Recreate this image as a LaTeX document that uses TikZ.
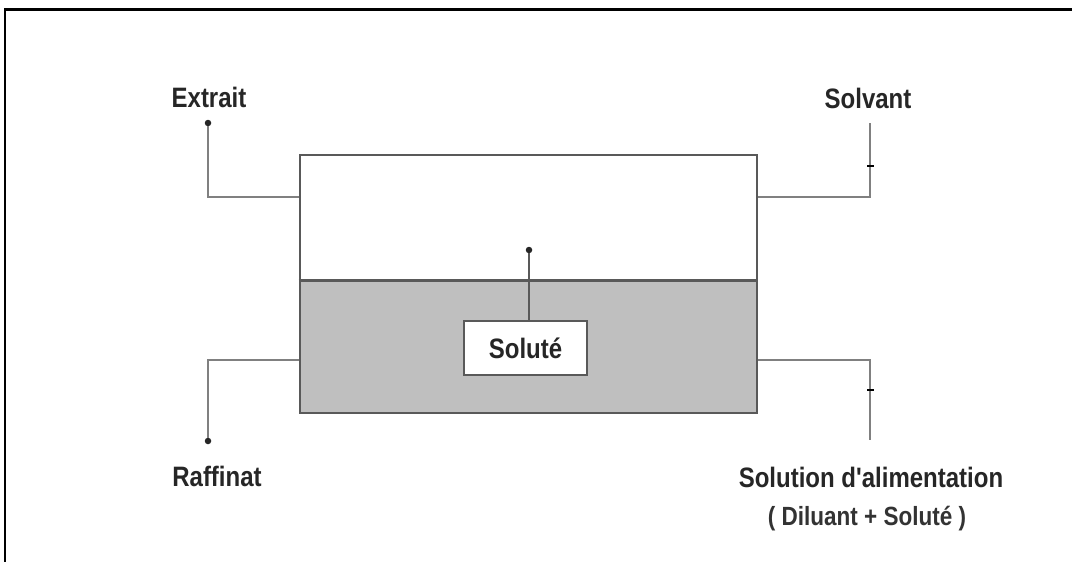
\documentclass[tikz,border=0pt]{standalone}
\usepackage{graphicx}
\usepackage{fontspec}
\setmainfont{Liberation Sans}
\newcommand{\tallbox}[1]{\scalebox{1}[1.17]{#1}}
\begin{document}
\begin{tikzpicture}[x=1pt,y=-1pt,
  conn/.style={draw=black!50,line width=2.6pt},
  boxline/.style={draw=black!65,line width=2.6pt},
  lbl/.style={inner sep=0pt,font=\fontsize{24}{28}\selectfont\bfseries,text=black!85},
  sublbl/.style={inner sep=0pt,font=\fontsize{22.5}{26}\selectfont\bfseries,text=black!80},
  enddot/.style={circle,fill=black!85,inner sep=0pt,minimum size=6.5pt},
  tick/.style={fill=black,inner sep=0pt,minimum width=7pt,minimum height=2.5pt}]
\useasboundingbox (0,0) rectangle (1072,562);
\fill[white] (0,0) rectangle (1072,562);
% frame
\draw[line width=3pt] (4,9) -- (1072,9);
\draw[line width=2pt] (5,9) -- (5,562);
% vessel
\fill[white] (300,155) rectangle (757,280);
\fill[black!25] (300,280) rectangle (757,413);
\node[boxline,minimum width=457pt,minimum height=258pt,inner sep=0pt] (vessel) at (528.5,284) {};
\draw[draw=black!65,line width=3pt] (vessel.west |- 0,280) -- (vessel.east |- 0,280);
% solute box
\node[boxline,fill=white,minimum width=123pt,minimum height=54pt,inner sep=0pt,
      font=\fontsize{24}{28}\selectfont\bfseries,text=black!85] (solute) at (525.5,348) {\tallbox{Soluté}};
\node[enddot] (dS) at (529,250) {};
\draw[draw=black!65,line width=2.6pt] (solute.north -| dS) -- (dS);
% labels
\node[lbl] (ext) at (209,97) {\tallbox{Extrait}};
\node[lbl] (solv) at (868,98) {\tallbox{Solvant}};
\node[lbl] (raf) at (217,476) {\tallbox{Raffinat}};
\node[lbl] (alim) at (871,477) {\tallbox{Solution d\textquotesingle alimentation}};
\node[sublbl] (dil) at (867,519) {\tallbox{( Diluant + Soluté )}};
% coordinates
\node[enddot] (dE) at (208,123) {};
\coordinate (cE) at (208,197);
\coordinate (sTop) at (870,123);
\coordinate (cS) at (870,197);
\node[tick] (tS) at (870,166) {};
\node[enddot] (dR) at (208,441) {};
\coordinate (cR) at (208,360);
\coordinate (sBot) at (870,440);
\coordinate (cA) at (870,360);
\node[tick] (tA) at (870,390) {};
% connectors
\draw[conn] (dE) -- (cE) -- (vessel.west |- cE);
\draw[conn] (sTop) -- (cS) -- (vessel.east |- cS);
\draw[conn] (vessel.west |- cR) -- (cR) -- (dR);
\draw[conn] (vessel.east |- cA) -- (cA) -- (sBot);
\node[tick] at (tS) {};
\node[tick] at (tA) {};
\end{tikzpicture}
\end{document}
